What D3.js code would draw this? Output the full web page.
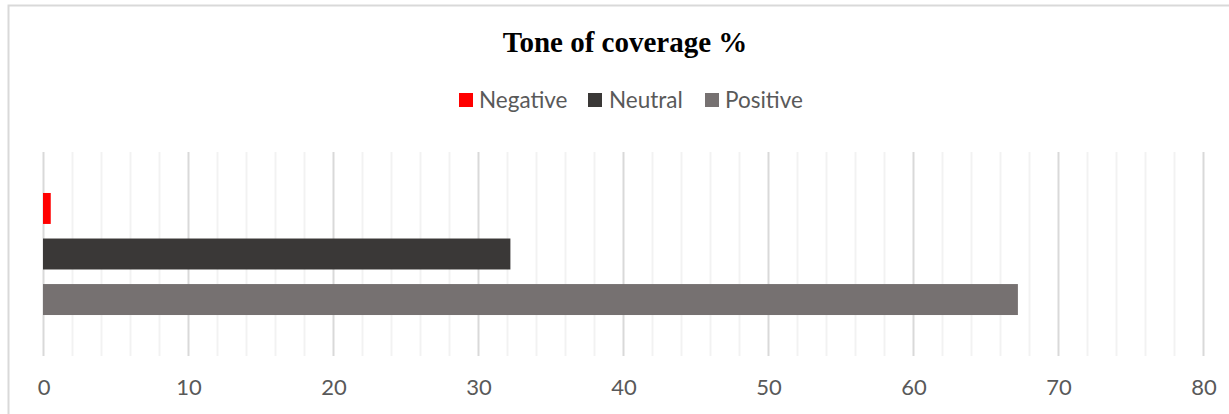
<!DOCTYPE html>
<html>
<head>
<meta charset="utf-8">
<script src="https://cdn.jsdelivr.net/npm/d3@7"></script>
<style>
  html, body { margin: 0; padding: 0; background: #ffffff; }
  svg { display: block; }
</style>
</head>
<body>
<svg id="chart" width="1229" height="414"></svg>
<script>
// Share of coverage by tone (%)
const series = ["Negative", "Neutral", "Positive"];
const values = [0.5, 32.2, 67.2];
const colors = ["#ff0000", "#3a3837", "#767171"];
const xTicks = [0, 10, 20, 30, 40, 50, 60, 70, 80];
const title = "Tone of coverage %";

const svg = d3.select("#chart");
const W = 1229, H = 414;

// outer chart frame
svg.append("rect")
  .attr("x", 8.5).attr("y", 5.5)
  .attr("width", W + 10).attr("height", H + 10)
  .attr("fill", "#ffffff")
  .attr("stroke", "#d9d9d9").attr("stroke-width", 2);

const plot = { left: 43.5, right: 1203.5, top: 152, bottom: 356 };

const x = d3.scaleLinear().domain([0, 80]).range([plot.left, plot.right]);
const y = d3.scaleBand().domain(series)
  .range([plot.top, plot.bottom])
  .paddingInner(0.32).paddingOuter(0.9);

// minor gridlines every 2 units
const minor = d3.range(0, 81, 2).filter(v => v % 10 !== 0);
svg.append("g").selectAll("line").data(minor).join("line")
  .attr("x1", d => x(d)).attr("x2", d => x(d))
  .attr("y1", plot.top).attr("y2", plot.bottom)
  .attr("stroke", "#f2f2f2").attr("stroke-width", 2);

// major gridlines
svg.append("g").selectAll("line").data(xTicks).join("line")
  .attr("x1", d => x(d)).attr("x2", d => x(d))
  .attr("y1", plot.top).attr("y2", plot.bottom)
  .attr("stroke", "#d9d9d9").attr("stroke-width", 2);

// bars
svg.append("g").selectAll("rect").data(series).join("rect")
  .attr("x", x(0) - 0.5)
  .attr("y", d => y(d))
  .attr("width", (d, i) => x(values[i]) - x(0) + 0.5)
  .attr("height", y.bandwidth())
  .attr("fill", (d, i) => colors[i]);

// x axis labels
const axis = d3.axisBottom(x).tickValues(xTicks).tickSize(0).tickPadding(0);
const gAxis = svg.append("g").attr("transform", `translate(0, ${plot.bottom + 23})`).call(axis);
gAxis.select(".domain").remove();
gAxis.selectAll("text")
  .attr("dy", "0.71em")
  .attr("fill", "#595959")
  .style("font-family", "Lato, 'Open Sans', sans-serif")
  .style("font-size", "22px");

// title
svg.append("text")
  .attr("x", 625).attr("y", 52)
  .attr("text-anchor", "middle")
  .attr("fill", "#000000")
  .style("font-family", "'Liberation Serif', 'DejaVu Serif', serif")
  .style("font-weight", "bold")
  .style("font-size", "29px")
  .text(title);

// legend
const legendItems = [
  { sx: 459, tx: 479 },
  { sx: 588, tx: 609 },
  { sx: 705, tx: 725 }
];
const lg = svg.append("g");
series.forEach((s, i) => {
  lg.append("rect")
    .attr("x", legendItems[i].sx).attr("y", 93)
    .attr("width", 14).attr("height", 14)
    .attr("fill", colors[i]);
  lg.append("text")
    .attr("x", legendItems[i].tx).attr("y", 107.5)
    .attr("fill", "#595959")
    .style("font-family", "Lato, 'Open Sans', sans-serif")
    .style("font-size", "22.5px")
    .text(s);
});
</script>
</body>
</html>
